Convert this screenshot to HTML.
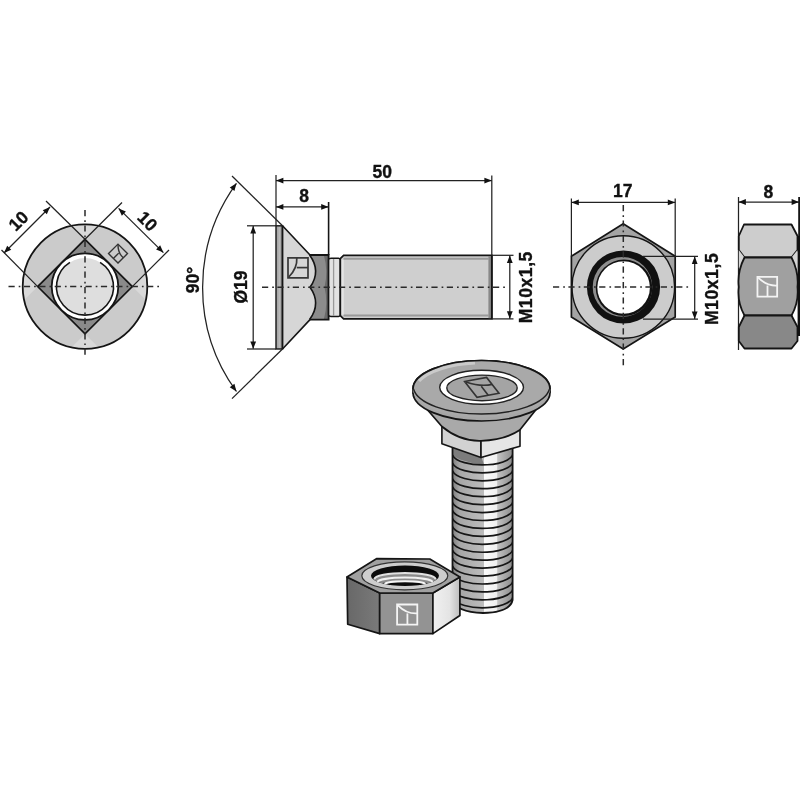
<!DOCTYPE html><html><head><meta charset="utf-8"><style>html,body{margin:0;padding:0;background:#fff;}svg{display:block;will-change:transform;}</style></head><body>
<svg width="800" height="800" viewBox="0 0 800 800">
<rect width="800" height="800" fill="#fff"/>
<defs><clipPath id="cc"><circle cx="85.00" cy="286.60" r="62.30"/></clipPath></defs>
<circle cx="85.00" cy="286.60" r="62.30" fill="#cbcbcb"/>
<g clip-path="url(#cc)">
<polygon points="85.00,239.30 5.00,159.30 165.00,159.30" fill="#d9d9d9"/>
<polygon points="37.70,286.60 -42.30,206.60 -42.30,366.60" fill="#d9d9d9"/>
<polygon points="132.30,286.60 212.30,206.60 212.30,366.60" fill="#d9d9d9"/>
<polygon points="85.00,333.90 5.00,413.90 165.00,413.90" fill="#d9d9d9"/>
</g>
<circle cx="85.00" cy="286.60" r="62.30" fill="none" stroke="#151515" stroke-width="1.8"/>
<polygon points="85.00,239.30 132.30,286.60 85.00,333.90 37.70,286.60" fill="#8a8a8a" stroke="#151515" stroke-width="1.7" stroke-linejoin="miter"/>
<circle cx="85.00" cy="286.60" r="33.3" fill="#fff" stroke="#151515" stroke-width="1.8"/>
<circle cx="85.00" cy="286.60" r="28.5" fill="#dedede"/>
<path d="M 100.10 262.43 A 28.50 28.50 0 1 1 69.90 262.43" fill="none" stroke="#151515" stroke-width="1.6"/>
<line x1="37.70" y1="286.60" x2="1.50" y2="250.00" stroke="#222" stroke-width="1.25" />
<line x1="85.00" y1="239.30" x2="46.00" y2="201.00" stroke="#222" stroke-width="1.25" />
<line x1="85.00" y1="239.30" x2="122.00" y2="202.50" stroke="#222" stroke-width="1.25" />
<line x1="132.30" y1="286.60" x2="169.00" y2="250.00" stroke="#222" stroke-width="1.25" />
<line x1="4.00" y1="253.00" x2="50.00" y2="207.00" stroke="#222" stroke-width="1.25" /><polygon points="4.00,253.00 7.18,245.72 11.28,249.82" fill="#111"/><polygon points="50.00,207.00 46.82,214.28 42.72,210.18" fill="#111"/>
<line x1="118.60" y1="208.40" x2="163.40" y2="252.60" stroke="#222" stroke-width="1.25" /><polygon points="118.60,208.40 125.90,211.53 121.83,215.66" fill="#111"/><polygon points="163.40,252.60 156.10,249.47 160.17,245.34" fill="#111"/>
<text transform="translate(18.30 220.70) rotate(-45.0)" x="0" y="6.26" text-anchor="middle" letter-spacing="0.00" font-family="Liberation Sans, sans-serif" font-weight="bold" font-size="17.5" fill="#111" stroke="#111" stroke-width="0.35">10</text>
<text transform="translate(147.60 221.00) rotate(45.0)" x="0" y="6.26" text-anchor="middle" letter-spacing="0.00" font-family="Liberation Sans, sans-serif" font-weight="bold" font-size="17.5" fill="#111" stroke="#111" stroke-width="0.35">10</text>
<g transform="matrix(4.738 4.738 -4.738 4.738 118.00 253.60)" fill="none" stroke="#333" stroke-width="1.40"><rect x="-1" y="-1" width="2" height="2" vector-effect="non-scaling-stroke"/><path d="M -0.92 -0.92 Q -0.05 -0.05 1 -0.12" vector-effect="non-scaling-stroke"/><path d="M 0.02 -0.12 L 0.02 1" vector-effect="non-scaling-stroke"/></g>
<line x1="8.50" y1="286.60" x2="162.00" y2="286.60" stroke="#2a2a2a" stroke-width="1.5" stroke-dasharray="6.2 4 1.7 3.5" fill="none"/>
<line x1="85.00" y1="210.00" x2="85.00" y2="358.00" stroke="#2a2a2a" stroke-width="1.5" stroke-dasharray="6.2 4 1.7 3.5" fill="none"/>
<rect x="276.0" y="225.8" width="6.5" height="123.2" fill="#a9a9a9" stroke="#151515" stroke-width="1.4"/>
<line x1="279.20" y1="227.00" x2="279.20" y2="348.00" stroke="#c2c2c2" stroke-width="1.00" />
<polygon points="282.5,225.8 310.0,255.0 310.0,319.6 282.5,349.0" fill="#d6d6d6"/>
<path d="M 282.5 225.8 L 310.0 255.0 M 310.0 319.6 L 282.5 349.0" stroke="#151515" stroke-width="1.6" fill="none"/>
<line x1="282.50" y1="225.80" x2="282.50" y2="349.00" stroke="#151515" stroke-width="1.80" />
<rect x="310.0" y="255.0" width="18.6" height="64.6" fill="#8c8c8c"/>
<path d="M 323.8 255.0 Q 328.5 271 324.5 287.3 Q 328.5 303.5 323.8 319.6 L 328.6 319.6 L 328.6 255.0 Z" fill="#6a6a6a"/>
<path d="M 309.0 255.0 Q 321.5 271.2 310.0 287.3 Q 321.5 303.5 309.0 319.6 Z" fill="#d6d6d6"/>
<path d="M 309.6 255.0 Q 321.5 271.2 310.0 287.3 Q 321.5 303.5 309.6 319.6" fill="none" stroke="#151515" stroke-width="1.6"/>
<path d="M 309.4 255.0 L 328.6 255.0 L 328.6 319.6 L 309.4 319.6" fill="none" stroke="#151515" stroke-width="1.8"/>
<g transform="matrix(0.000 -10.000 10.000 0.000 298.00 267.80)" fill="none" stroke="#383838" stroke-width="1.70"><rect x="-1" y="-1" width="2" height="2" vector-effect="non-scaling-stroke"/><path d="M -0.92 -0.92 Q -0.05 -0.05 1 -0.12" vector-effect="non-scaling-stroke"/><path d="M 0.02 -0.12 L 0.02 1" vector-effect="non-scaling-stroke"/></g>
<path d="M 328.6 259.5 Q 329 258.2 331 258.2 L 338.5 258.2 Q 340.3 258.4 340.3 260 L 340.3 315 Q 340.3 316.3 338.5 316.4 L 331 316.4 Q 329 316.4 328.6 315 Z" fill="#e2e2e2" stroke="#151515" stroke-width="1.5"/>
<line x1="333.60" y1="259.00" x2="333.60" y2="316.00" stroke="#999" stroke-width="1.30" />
<path d="M 340.3 258.6 L 343.6 255.3 L 491.8 255.3 L 491.8 318.9 L 343.6 318.9 L 340.3 315.6 Z" fill="#cfcfcf" stroke="#151515" stroke-width="1.7"/>
<line x1="343.50" y1="258.80" x2="488.50" y2="258.80" stroke="#9a9a9a" stroke-width="2.00" />
<line x1="343.50" y1="315.40" x2="488.50" y2="315.40" stroke="#9a9a9a" stroke-width="2.00" />
<line x1="342.80" y1="259.80" x2="342.80" y2="314.60" stroke="#e4e4e4" stroke-width="2.00" />
<rect x="488.4" y="256" width="2.8" height="62.2" fill="#888"/>
<line x1="491.80" y1="255.30" x2="491.80" y2="318.90" stroke="#151515" stroke-width="1.70" />
<line x1="262.00" y1="287.30" x2="508.00" y2="287.30" stroke="#2a2a2a" stroke-width="1.5" stroke-dasharray="6.2 4 1.7 3.5" fill="none"/>
<line x1="276.00" y1="175.00" x2="276.00" y2="226.00" stroke="#222" stroke-width="1.25" />
<line x1="328.60" y1="202.00" x2="328.60" y2="255.00" stroke="#151515" stroke-width="1.60" />
<line x1="491.80" y1="175.50" x2="491.80" y2="255.30" stroke="#222" stroke-width="1.25" />
<line x1="247.00" y1="225.80" x2="276.00" y2="225.80" stroke="#222" stroke-width="1.25" />
<line x1="247.00" y1="349.00" x2="276.00" y2="349.00" stroke="#222" stroke-width="1.25" />
<line x1="491.80" y1="255.30" x2="513.50" y2="255.30" stroke="#222" stroke-width="1.25" />
<line x1="491.80" y1="318.90" x2="513.50" y2="318.90" stroke="#222" stroke-width="1.25" />
<line x1="232.00" y1="176.00" x2="282.50" y2="225.80" stroke="#222" stroke-width="1.25" />
<line x1="232.00" y1="398.60" x2="282.50" y2="349.00" stroke="#222" stroke-width="1.25" />
<path d="M 236.45 183.30 A 177.00 177.00 0 0 0 236.45 391.50" fill="none" stroke="#222" stroke-width="1.25"/>
<polygon points="236.45,183.30 234.44,190.99 229.75,187.58" fill="#111"/>
<polygon points="236.45,391.50 229.75,387.22 234.44,383.81" fill="#111"/>
<line x1="276.00" y1="180.60" x2="491.80" y2="180.60" stroke="#222" stroke-width="1.25" /><polygon points="276.00,180.60 283.40,177.70 283.40,183.50" fill="#111"/><polygon points="491.80,180.60 484.40,183.50 484.40,177.70" fill="#111"/>
<line x1="276.00" y1="206.90" x2="328.60" y2="206.90" stroke="#222" stroke-width="1.25" /><polygon points="276.00,206.90 283.40,204.00 283.40,209.80" fill="#111"/><polygon points="328.60,206.90 321.20,209.80 321.20,204.00" fill="#111"/>
<line x1="253.20" y1="226.00" x2="253.20" y2="348.80" stroke="#222" stroke-width="1.25" /><polygon points="253.20,226.00 256.10,233.40 250.30,233.40" fill="#111"/><polygon points="253.20,348.80 250.30,341.40 256.10,341.40" fill="#111"/>
<line x1="509.80" y1="255.50" x2="509.80" y2="318.70" stroke="#222" stroke-width="1.25" /><polygon points="509.80,255.50 512.70,262.90 506.90,262.90" fill="#111"/><polygon points="509.80,318.70 506.90,311.30 512.70,311.30" fill="#111"/>
<text transform="translate(382.30 171.30) rotate(0.0)" x="0" y="6.26" text-anchor="middle" letter-spacing="0.00" font-family="Liberation Sans, sans-serif" font-weight="bold" font-size="17.5" fill="#111" stroke="#111" stroke-width="0.35">50</text>
<text transform="translate(304.00 195.50) rotate(0.0)" x="0" y="6.26" text-anchor="middle" letter-spacing="0.00" font-family="Liberation Sans, sans-serif" font-weight="bold" font-size="17.5" fill="#111" stroke="#111" stroke-width="0.35">8</text>
<text transform="translate(240.60 287.00) rotate(-90.0)" x="0" y="6.26" text-anchor="middle" letter-spacing="0.00" font-family="Liberation Sans, sans-serif" font-weight="bold" font-size="17.5" fill="#111" stroke="#111" stroke-width="0.35">&#216;19</text>
<text transform="translate(192.60 280.00) rotate(-90.0)" x="0" y="6.26" text-anchor="middle" letter-spacing="0.00" font-family="Liberation Sans, sans-serif" font-weight="bold" font-size="17.5" fill="#111" stroke="#111" stroke-width="0.35">90&#176;</text>
<text transform="translate(525.70 287.20) rotate(-90.0)" x="0" y="6.26" text-anchor="middle" letter-spacing="0.60" font-family="Liberation Sans, sans-serif" font-weight="bold" font-size="17.5" fill="#111" stroke="#111" stroke-width="0.35">M10x1,5</text>
<polygon points="623.20,223.80 675.20,256.30 675.20,317.00 623.20,349.00 571.40,317.00 571.40,256.30" fill="#a4a4a4"/>
<circle cx="623.30" cy="287.00" r="51.3" fill="#cccccc" stroke="#151515" stroke-width="1.4"/>
<polygon points="623.20,223.80 675.20,256.30 675.20,317.00 623.20,349.00 571.40,317.00 571.40,256.30" fill="none" stroke="#151515" stroke-width="1.7" stroke-linejoin="miter"/>
<circle cx="623.5" cy="287.0" r="36.6" fill="#111"/>
<circle cx="622.5" cy="286.9" r="29.8" fill="#8e8e8e"/>
<circle cx="624.0" cy="287.8" r="28.3" fill="#111"/>
<circle cx="623.6" cy="287.5" r="26.3" fill="#fff"/>
<line x1="553.00" y1="287.00" x2="691.00" y2="287.00" stroke="#2a2a2a" stroke-width="1.5" stroke-dasharray="6.2 4 1.7 3.5" fill="none"/>
<line x1="623.30" y1="205.00" x2="623.30" y2="368.00" stroke="#2a2a2a" stroke-width="1.5" stroke-dasharray="6.2 4 1.7 3.5" fill="none"/>
<line x1="571.40" y1="198.50" x2="571.40" y2="256.30" stroke="#222" stroke-width="1.25" />
<line x1="675.20" y1="198.50" x2="675.20" y2="256.30" stroke="#222" stroke-width="1.25" />
<line x1="643.00" y1="256.30" x2="698.00" y2="256.30" stroke="#222" stroke-width="1.25" />
<line x1="643.00" y1="319.20" x2="698.00" y2="319.20" stroke="#222" stroke-width="1.25" />
<line x1="571.40" y1="202.40" x2="675.20" y2="202.40" stroke="#222" stroke-width="1.25" /><polygon points="571.40,202.40 578.80,199.50 578.80,205.30" fill="#111"/><polygon points="675.20,202.40 667.80,205.30 667.80,199.50" fill="#111"/>
<line x1="694.70" y1="256.60" x2="694.70" y2="318.90" stroke="#222" stroke-width="1.25" /><polygon points="694.70,256.60 697.60,264.00 691.80,264.00" fill="#111"/><polygon points="694.70,318.90 691.80,311.50 697.60,311.50" fill="#111"/>
<text transform="translate(622.80 190.40) rotate(0.0)" x="0" y="6.26" text-anchor="middle" letter-spacing="0.00" font-family="Liberation Sans, sans-serif" font-weight="bold" font-size="17.5" fill="#111" stroke="#111" stroke-width="0.35">17</text>
<text transform="translate(711.60 288.90) rotate(-90.0)" x="0" y="6.26" text-anchor="middle" letter-spacing="0.60" font-family="Liberation Sans, sans-serif" font-weight="bold" font-size="17.5" fill="#111" stroke="#111" stroke-width="0.35">M10x1,5</text>
<line x1="738.50" y1="197.00" x2="738.50" y2="350.00" stroke="#222" stroke-width="1.25" />
<line x1="738.50" y1="202.00" x2="799.00" y2="202.00" stroke="#222" stroke-width="1.25" /><polygon points="738.50,202.00 745.90,199.10 745.90,204.90" fill="#111"/><polygon points="799.00,202.00 791.60,204.90 791.60,199.10" fill="#111"/>
<line x1="799.10" y1="197.00" x2="799.10" y2="240.00" stroke="#151515" stroke-width="1.80" />
<text transform="translate(768.40 191.80) rotate(0.0)" x="0" y="6.26" text-anchor="middle" letter-spacing="0.00" font-family="Liberation Sans, sans-serif" font-weight="bold" font-size="17.5" fill="#111" stroke="#111" stroke-width="0.35">8</text>
<path d="M 744 224.5 L 791.5 224.5 L 797.5 236 L 797.5 250 L 791.5 257.5 L 744.5 257.5 L 738.8 250 L 738.8 236 Z" fill="#cdcdcd" stroke="#151515" stroke-width="1.8" stroke-linejoin="round"/>
<path d="M 738.8 250 L 744.5 257.5 L 738.8 268 Z" fill="#d6d6d6"/>
<path d="M 797.5 250 L 791.5 257.5 L 797.5 268 Z" fill="#d6d6d6"/>
<path d="M 744.5 257.5 L 791.5 257.5 Q 799 272 797.5 287 Q 799 302 791.5 315.5 L 744.5 315.5 Q 737 302 738.8 287 Q 737 272 744.5 257.5 Z" fill="#a0a0a0" stroke="#151515" stroke-width="1.8"/>
<path d="M 744.5 315.5 L 791.5 315.5 L 797.5 327 L 797.5 341 L 791.5 348.5 L 744.5 348.5 L 738.8 341 L 738.8 327 Z" fill="#888888" stroke="#151515" stroke-width="1.8" stroke-linejoin="round"/>
<rect x="797.6" y="236" width="2.4" height="100" fill="#111"/>
<g transform="matrix(9.850 0.000 -0.000 9.850 767.30 286.70)" fill="none" stroke="#f4f4f4" stroke-width="1.80"><rect x="-1" y="-1" width="2" height="2" vector-effect="non-scaling-stroke"/><path d="M -0.92 -0.92 Q -0.05 -0.05 1 -0.12" vector-effect="non-scaling-stroke"/><path d="M 0.02 -0.12 L 0.02 1" vector-effect="non-scaling-stroke"/></g>
<defs><linearGradient id="shk" x1="452" x2="513" y1="0" y2="0" gradientUnits="userSpaceOnUse"><stop offset="0" stop-color="#7c7c7c"/><stop offset="0.12" stop-color="#a6a6a6"/><stop offset="0.52" stop-color="#bdbdbd"/><stop offset="0.525" stop-color="#fafafa"/><stop offset="0.73" stop-color="#f0f0f0"/><stop offset="0.75" stop-color="#c2c2c2"/><stop offset="1" stop-color="#8a8a8a"/></linearGradient><linearGradient id="nutR" x1="434" x2="460" y1="0" y2="0" gradientUnits="userSpaceOnUse"><stop offset="0" stop-color="#f0f0f0"/><stop offset="0.6" stop-color="#e4e4e4"/><stop offset="1" stop-color="#bdbdbd"/></linearGradient><linearGradient id="nutL" x1="347" x2="380" y1="0" y2="0" gradientUnits="userSpaceOnUse"><stop offset="0" stop-color="#686868"/><stop offset="1" stop-color="#7a7a7a"/></linearGradient><clipPath id="shc"><path d="M 452.5 445 L 512.6 445 L 512.6 600 Q 510 612.5 483 613 Q 456 612 452.5 600 Z"/></clipPath><clipPath id="hole"><ellipse cx="405" cy="575.8" rx="34" ry="10.3"/></clipPath></defs>
<path d="M 452.5 445 L 512.6 445 L 512.6 600 Q 510 612.5 483 613 Q 456 612 452.5 600 Z" fill="url(#shk)"/>
<polygon points="452.5,446 481.5,457.5 484,464.6 472,463 460,459.5 452.5,455" fill="#7c7c7c"/>
<g clip-path="url(#shc)" fill="none" stroke="#161616" stroke-width="1.7"><path d="M 452.5 455.00 A 30.05 11.5 0 0 0 512.6 451.50"/><path d="M 452.5 462.94 A 30.05 11.5 0 0 0 512.6 459.44"/><path d="M 452.5 470.88 A 30.05 11.5 0 0 0 512.6 467.38"/><path d="M 452.5 478.82 A 30.05 11.5 0 0 0 512.6 475.32"/><path d="M 452.5 486.76 A 30.05 11.5 0 0 0 512.6 483.26"/><path d="M 452.5 494.70 A 30.05 11.5 0 0 0 512.6 491.20"/><path d="M 452.5 502.64 A 30.05 11.5 0 0 0 512.6 499.14"/><path d="M 452.5 510.58 A 30.05 11.5 0 0 0 512.6 507.08"/><path d="M 452.5 518.52 A 30.05 11.5 0 0 0 512.6 515.02"/><path d="M 452.5 526.46 A 30.05 11.5 0 0 0 512.6 522.96"/><path d="M 452.5 534.40 A 30.05 11.5 0 0 0 512.6 530.90"/><path d="M 452.5 542.34 A 30.05 11.5 0 0 0 512.6 538.84"/><path d="M 452.5 550.28 A 30.05 11.5 0 0 0 512.6 546.78"/><path d="M 452.5 558.22 A 30.05 11.5 0 0 0 512.6 554.72"/><path d="M 452.5 566.16 A 30.05 11.5 0 0 0 512.6 562.66"/><path d="M 452.5 574.10 A 30.05 11.5 0 0 0 512.6 570.60"/><path d="M 452.5 582.04 A 30.05 11.5 0 0 0 512.6 578.54"/><path d="M 452.5 589.98 A 30.05 11.5 0 0 0 512.6 586.48"/><path d="M 452.5 597.92 A 30.05 11.5 0 0 0 512.6 594.42"/><path d="M 452.5 605.86 A 30.05 11.5 0 0 0 512.6 602.36"/><path d="M 452.5 613.80 A 30.05 11.5 0 0 0 512.6 610.30"/></g>
<path d="M 452.5 445 L 452.5 600 Q 456 612 483 613 Q 510 612.5 512.6 600 L 512.6 445" fill="none" stroke="#151515" stroke-width="1.8"/>
<polygon points="441.9,424 481,438 481,457.5 441.9,443.8" fill="#d2d2d2" stroke="#151515" stroke-width="1.6" stroke-linejoin="round"/>
<polygon points="481,438 520,428 520,446.2 481,457.5" fill="#e6e6e6" stroke="#151515" stroke-width="1.6" stroke-linejoin="round"/>
<path d="M 413 393 L 441.9 426.5 Q 460 441.5 481 440.8 Q 505 440 519.8 430 L 550 392 Z" fill="#a9a9a9" stroke="#151515" stroke-width="1.7" stroke-linejoin="round"/>
<path d="M 413 389 A 68.5 28.5 0 0 1 550 389 L 550 392.5 A 68.5 28.5 0 0 1 413 392.5 Z" fill="#a6a6a6" stroke="#151515" stroke-width="1.7"/>
<ellipse cx="481.5" cy="389" rx="68.5" ry="28.5" fill="#a9a9a9"/>
<path d="M 413.5 389 A 68.5 28.5 0 0 0 549.5 389" fill="none" stroke="#222" stroke-width="1.4"/>
<path d="M 419 381 A 68.5 28.5 0 0 1 475 363" fill="none" stroke="#cacaca" stroke-width="3.2"/>
<path d="M 413 389 A 68.5 28.5 0 0 1 550 389" fill="none" stroke="#151515" stroke-width="1.7"/>
<ellipse cx="481.6" cy="387.3" rx="41.9" ry="17" fill="#ffffff" stroke="#222" stroke-width="1.4"/>
<ellipse cx="482" cy="387.9" rx="35.2" ry="12.8" fill="#a4a4a4" stroke="#222" stroke-width="1.4"/>
<g transform="matrix(11.000 -2.050 6.200 7.900 481.80 387.35)" fill="none" stroke="#333" stroke-width="1.60"><rect x="-1" y="-1" width="2" height="2" vector-effect="non-scaling-stroke"/><path d="M -0.92 -0.92 Q -0.05 -0.05 1 -0.12" vector-effect="non-scaling-stroke"/><path d="M 0.02 -0.12 L 0.02 1" vector-effect="non-scaling-stroke"/></g>
<polygon points="347,577 379.7,593 379.7,633.6 347.7,624.3" fill="url(#nutL)" stroke="#151515" stroke-width="1.7" stroke-linejoin="round"/>
<polygon points="379.7,593 432.9,593 432.9,633.6 379.7,633.6" fill="#939393" stroke="#151515" stroke-width="1.7" stroke-linejoin="round"/>
<polygon points="432.9,593 459.9,577 459.9,615.5 432.9,633.6" fill="url(#nutR)" stroke="#151515" stroke-width="1.7" stroke-linejoin="round"/>
<polygon points="347,577 376.5,558.7 429.8,559 459.9,577 432.9,593 379.7,593" fill="#a0a0a0" stroke="#151515" stroke-width="1.7" stroke-linejoin="round"/>
<ellipse cx="404.8" cy="575.8" rx="43" ry="14" fill="#cdcdcd" stroke="#333" stroke-width="1.2"/>
<ellipse cx="405" cy="575.8" rx="34" ry="10.3" fill="#0c0c0c"/>
<g clip-path="url(#hole)" fill="none"><path d="M 373 580 A 32 7 0 0 1 437 580 L 432 585 A 27 3.5 0 0 0 378 585 Z" fill="#8c8c8c"/><path d="M 374.5 579.2 A 30.5 6.2 0 0 1 435.5 579.2" stroke="#e2e2e2" stroke-width="2.1"/><path d="M 377.5 582.2 A 27.5 4.7 0 0 1 432.5 582.2" stroke="#f2f2f2" stroke-width="2.1"/><path d="M 385 584 A 20 2.7 0 0 1 425 584" stroke="#f6f6f6" stroke-width="2.0"/></g>
<g transform="matrix(10.100 0.000 -0.000 10.100 407.20 614.60)" fill="none" stroke="#f4f4f4" stroke-width="1.80"><rect x="-1" y="-1" width="2" height="2" vector-effect="non-scaling-stroke"/><path d="M -0.92 -0.92 Q -0.05 -0.05 1 -0.12" vector-effect="non-scaling-stroke"/><path d="M 0.02 -0.12 L 0.02 1" vector-effect="non-scaling-stroke"/></g>
</svg></body></html>
